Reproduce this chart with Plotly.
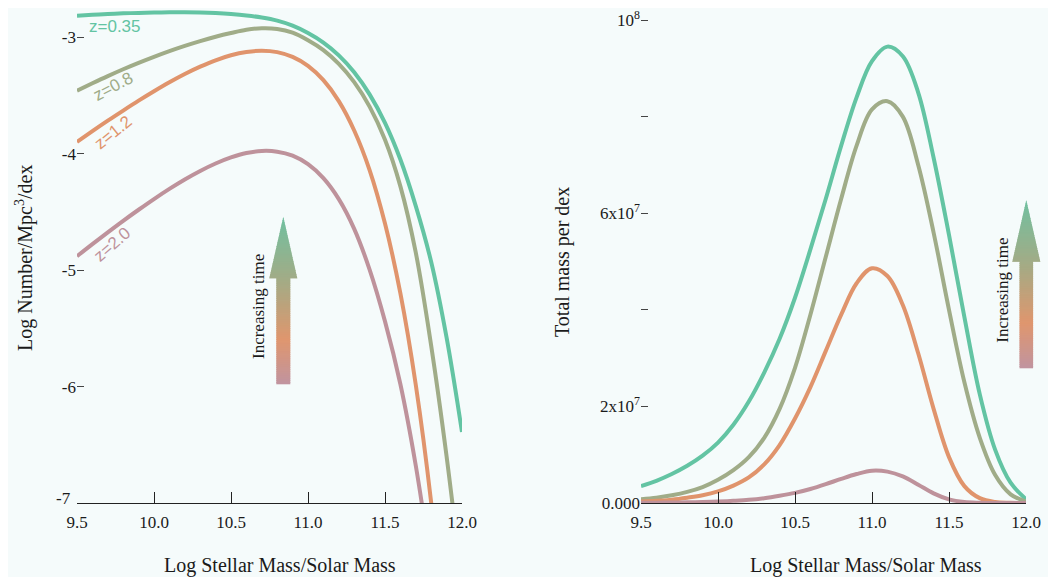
import plotly.graph_objects as go

# ---------------- Left panel: Log Number/Mpc^3/dex ----------------
l_x_035 = [9.5, 9.6, 9.7, 9.8, 9.9, 10.0, 10.1, 10.2, 10.3, 10.4, 10.5, 10.6, 10.7, 10.8, 10.9,
           11.0, 11.1, 11.2, 11.3, 11.4, 11.5, 11.6, 11.7, 11.8, 11.9, 12.0]
l_y_035 = [-2.814, -2.806, -2.799, -2.794, -2.790, -2.787, -2.785, -2.785, -2.787, -2.792, -2.800, -2.812,
           -2.830, -2.857, -2.900, -2.963, -3.045, -3.155, -3.30, -3.49, -3.735, -4.05, -4.45, -4.93, -5.58, -6.39]

l_x_08 = [9.5, 9.6, 9.7, 9.8, 9.9, 10.0, 10.1, 10.2, 10.3, 10.4, 10.5, 10.6, 10.7, 10.8, 10.9,
          11.0, 11.1, 11.2, 11.3, 11.4, 11.5, 11.6, 11.7, 11.8, 11.9, 12.0]
l_y_08 = [-3.459, -3.395, -3.333, -3.274, -3.219, -3.167, -3.118, -3.073, -3.032, -2.995, -2.963, -2.935,
          -2.922, -2.928, -2.960, -3.025, -3.11, -3.228, -3.385, -3.595, -3.88, -4.28, -4.85, -5.65, -6.6, -7.7]

l_x_12 = [9.5, 9.6, 9.7, 9.8, 9.9, 10.0, 10.1, 10.2, 10.3, 10.4, 10.5, 10.6, 10.7, 10.8, 10.9,
          11.0, 11.1, 11.2, 11.3, 11.4, 11.5, 11.6, 11.7, 11.8, 11.9]
l_y_12 = [-3.898, -3.806, -3.716, -3.629, -3.544, -3.463, -3.386, -3.315, -3.252, -3.197, -3.154, -3.126,
          -3.115, -3.127, -3.168, -3.245, -3.368, -3.548, -3.80, -4.14, -4.60, -5.2, -5.986, -6.997, -8.3]

l_x_20 = [9.5, 9.6, 9.7, 9.8, 9.9, 10.0, 10.1, 10.2, 10.3, 10.4, 10.5, 10.6, 10.7, 10.8, 10.9,
          11.0, 11.1, 11.2, 11.3, 11.4, 11.5, 11.6, 11.7, 11.8]
l_y_20 = [-4.88, -4.776, -4.675, -4.576, -4.481, -4.389, -4.302, -4.221, -4.148, -4.084, -4.032, -3.994,
          -3.976, -3.982, -4.017, -4.090, -4.21, -4.39, -4.645, -4.995, -5.44, -5.98, -6.68, -7.55]

# ---------------- Right panel: Total mass per dex ----------------
r_x = [9.5, 9.6, 9.7, 9.8, 9.9, 10.0, 10.1, 10.2, 10.3, 10.4, 10.5, 10.6, 10.7, 10.8, 10.9,
       11.0, 11.1, 11.2, 11.3, 11.4, 11.5, 11.6, 11.7, 11.8, 11.9, 12.0]
r_y_035 = [3.5e6, 4.6e6, 6.0e6, 7.7e6, 9.8e6, 12.5e6, 16.2e6, 21.0e6, 27.0e6, 34.0e6, 42.5e6, 52.5e6, 63.0e6,
           74e6, 84e6, 91.5e6, 94.5e6, 92.5e6, 85e6, 71.5e6, 55.5e6, 38.5e6, 22.5e6, 11e6, 4.2e6, 0.8e6]
r_y_08 = [0.8e6, 1.1e6, 1.6e6, 2.3e6, 3.3e6, 4.8e6, 6.8e6, 9.5e6, 13.5e6, 19.5e6, 28e6, 39e6, 51e6,
          63e6, 74e6, 81.5e6, 83.2e6, 80e6, 70e6, 56e6, 40e6, 25e6, 13.5e6, 5.8e6, 1.8e6, 0.3e6]
r_y_12 = [0.3e6, 0.45e6, 0.7e6, 1.1e6, 1.6e6, 2.4e6, 3.6e6, 5.3e6, 8e6, 12e6, 17.5e6, 24e6, 31.5e6,
          39e6, 45.5e6, 48.6e6, 47e6, 41e6, 31e6, 19.5e6, 9.5e6, 3.5e6, 1.0e6, 0.2e6, 0.05e6, 0.0]
r_y_20 = [0.05e6, 0.07e6, 0.1e6, 0.14e6, 0.2e6, 0.3e6, 0.45e6, 0.65e6, 1.0e6, 1.5e6, 2.1e6, 2.9e6, 3.9e6,
          5.0e6, 6.0e6, 6.7e6, 6.5e6, 5.5e6, 3.8e6, 2.0e6, 0.75e6, 0.2e6, 0.05e6, 0.0, 0.0, 0.0]

labels = ["z=0.35", "z=0.8", "z=1.2", "z=2.0"]
colors = ["#63C4A3", "#A0AC88", "#E0946C", "#BE929B"]

x_ticks = [9.5, 10.0, 10.5, 11.0, 11.5, 12.0]
x_ticktext = ["9.5", "10.0", "10.5", "11.0", "11.5", "12.0"]
l_yticks = [-6, -5, -4, -3]
l_yticktext = ["-6", "-5", "-4", "-3"]
r_yticks = [0, 2e7, 6e7, 1e8]
r_yticktext = ["0.000", "2x10<sup>7</sup>", "6x10<sup>7</sup>", "10<sup>8</sup>"]
r_minor_ticks = [4e7, 8e7]

BG = "#F5FBFB"
SERIF = "Liberation Serif, Times New Roman, serif"
SANS = "Liberation Sans, Arial, sans-serif"
INK = "#1a1a1a"

fig = go.Figure()
left = [(l_x_035, l_y_035), (l_x_08, l_y_08), (l_x_12, l_y_12), (l_x_20, l_y_20)]
right = [r_y_035, r_y_08, r_y_12, r_y_20]
for (xs, ys), c, n in zip(left, colors, labels):
    fig.add_trace(go.Scatter(x=xs, y=ys, mode="lines", name=n, showlegend=False,
                             line=dict(color=c, width=4, shape="spline", smoothing=1.0),
                             xaxis="x", yaxis="y"))
for ys, c, n in zip(right, colors, labels):
    fig.add_trace(go.Scatter(x=r_x, y=ys, mode="lines", name=n, showlegend=False,
                             line=dict(color=c, width=4, shape="spline", smoothing=1.0),
                             xaxis="x2", yaxis="y2"))

# page body has an 8px margin: figure origin sits at window (8, 8)
OFF = 8
W, H = 1056 - OFF, 577 - OFF
ML, MR, MT, MB = 77 - OFF, 30, 0, 74
PW = W - ML - MR
PH = H - MT - MB


def px2paper(wx, wy):
    fx, fy = wx - OFF, wy - OFF
    return (fx - ML) / PW, (H - MB - fy) / PH


axis_common = dict(showgrid=False, zeroline=False, ticklabeloverflow="allow",
                   tickfont=dict(family=SERIF, size=17, color=INK))
fig.update_layout(
    width=W, height=H,
    margin=dict(l=ML, r=MR, t=MT, b=MB),
    paper_bgcolor=BG, plot_bgcolor=BG,
    xaxis=dict(domain=[0, 385 / PW], range=[9.5, 12.0], anchor="y",
               tickvals=x_ticks, ticktext=x_ticktext, ticks="inside", ticklen=11,
               tickcolor="#222", showline=True, linecolor="#222", linewidth=1,
               ticklabelstandoff=4, **axis_common),
    yaxis=dict(domain=[0, 1], range=[-7, -2.748], anchor="x",
               tickvals=l_yticks, ticktext=l_yticktext, ticks="inside", ticklen=7,
               tickcolor="#444", showline=False, **axis_common),
    xaxis2=dict(domain=[(641 - OFF - ML) / PW, 1], range=[9.5, 12.0], anchor="y2",
                tickvals=x_ticks, ticktext=x_ticktext, ticks="inside", ticklen=11,
                tickcolor="#222", showline=True, linecolor="#222", linewidth=1,
                ticklabelstandoff=4, **axis_common),
    yaxis2=dict(domain=[0, 1], range=[0, 1.025e8], anchor="x2",
                tickvals=r_yticks, ticktext=r_yticktext, ticks="inside", ticklen=7,
                tickcolor="#444", showline=False,
                minor=dict(tickvals=r_minor_ticks, ticks="inside", ticklen=7, tickcolor="#444"),
                **axis_common),
)

# lowest left tick label sits slightly above the axis line in the reference
px, py = px2paper(73, 498)
fig.add_annotation(text="-7", x=px, y=py, xref="paper", yref="paper", showarrow=False,
                   font=dict(family=SERIF, size=17, color=INK), xanchor="right", yanchor="middle")

# axis titles
for text, x, y in [("Log Stellar Mass/Solar Mass", 280, 565), ("Log Stellar Mass/Solar Mass", 866, 565)]:
    px, py = px2paper(x, y)
    fig.add_annotation(text=text, x=px, y=py, xref="paper", yref="paper",
                       showarrow=False, font=dict(family=SERIF, size=20, color=INK),
                       xanchor="center", yanchor="middle")
for text, x, y in [("Log Number/Mpc<sup>3</sup>/dex", 25, 258), ("Total mass per dex", 562, 262)]:
    px, py = px2paper(x, y)
    fig.add_annotation(text=text, x=px, y=py, xref="paper", yref="paper", textangle=-90,
                       showarrow=False, font=dict(family=SERIF, size=20, color=INK),
                       xanchor="center", yanchor="middle")

# curve labels
lab_pos = [(9.747, -2.911, 0), (9.734, -3.419, -28), (9.734, -3.815, -39), (9.728, -4.777, -41)]
for (x, y, ang), text, c in zip(lab_pos, labels, colors):
    fig.add_annotation(text=text, x=x, y=y, xref="x", yref="y", textangle=ang,
                       showarrow=False, font=dict(family=SANS, size=17, color=c),
                       xanchor="center", yanchor="middle")

# "Increasing time" labels
for x, y in [(258.5, 306.5), (1001.7, 290)]:
    px, py = px2paper(x, y)
    fig.add_annotation(text="Increasing time", x=px, y=py, xref="paper", yref="paper", textangle=-90,
                       showarrow=False, font=dict(family=SERIF, size=17, color=INK),
                       xanchor="center", yanchor="middle")

# gradient arrows (decoration)
stops = [(0.0, (192, 148, 160)), (0.27, (223, 150, 110)), (0.6, (166, 170, 132)), (1.0, (112, 192, 160))]


def grad(t):
    for (t0, c0), (t1, c1) in zip(stops[:-1], stops[1:]):
        if t <= t1:
            f = (t - t0) / (t1 - t0)
            return "rgb(%d,%d,%d)" % tuple(round(a + (b - a) * f) for a, b in zip(c0, c1))
    return "rgb(%d,%d,%d)" % stops[-1][1]


def arrow(cx, tip, base, bottom, hw_head, hw_shaft, n=90):
    shapes = []
    total = bottom - tip

    def half(y):
        if y >= base:
            return hw_shaft
        return hw_head * (y - tip) / (base - tip)

    for i in range(n):
        y_lo = bottom - total * i / n
        y_hi = bottom - total * (i + 1) / n
        t = (i + 0.5) / n
        yl = min(y_lo + 0.4, bottom) if i > 0 else bottom
        yh = max(y_hi - 0.4, tip) if i < n - 1 else tip
        if yl > base > yh:
            pts = [(cx - hw_shaft, yl), (cx + hw_shaft, yl), (cx + hw_shaft, base), (cx + hw_head, base),
                   (cx + half(yh), yh), (cx - half(yh), yh), (cx - hw_head, base), (cx - hw_shaft, base)]
        else:
            pts = [(cx - half(yl), yl), (cx + half(yl), yl), (cx + half(yh), yh), (cx - half(yh), yh)]
        path = ""
        for k, (ax, ay) in enumerate(pts):
            X, Y = px2paper(ax, ay)
            path += ("M" if k == 0 else "L") + "%.5f,%.5f " % (X, Y)
        path += "Z"
        shapes.append(dict(type="path", path=path, xref="paper", yref="paper",
                           fillcolor=grad(t), line=dict(width=0), layer="above"))
    return shapes


shapes = arrow(283.3, 216.7, 278.3, 384.3, 14, 7) + arrow(1026.3, 200, 261.7, 368.3, 14, 6.8)
fig.update_layout(shapes=shapes)

fig.write_html("out.html")
